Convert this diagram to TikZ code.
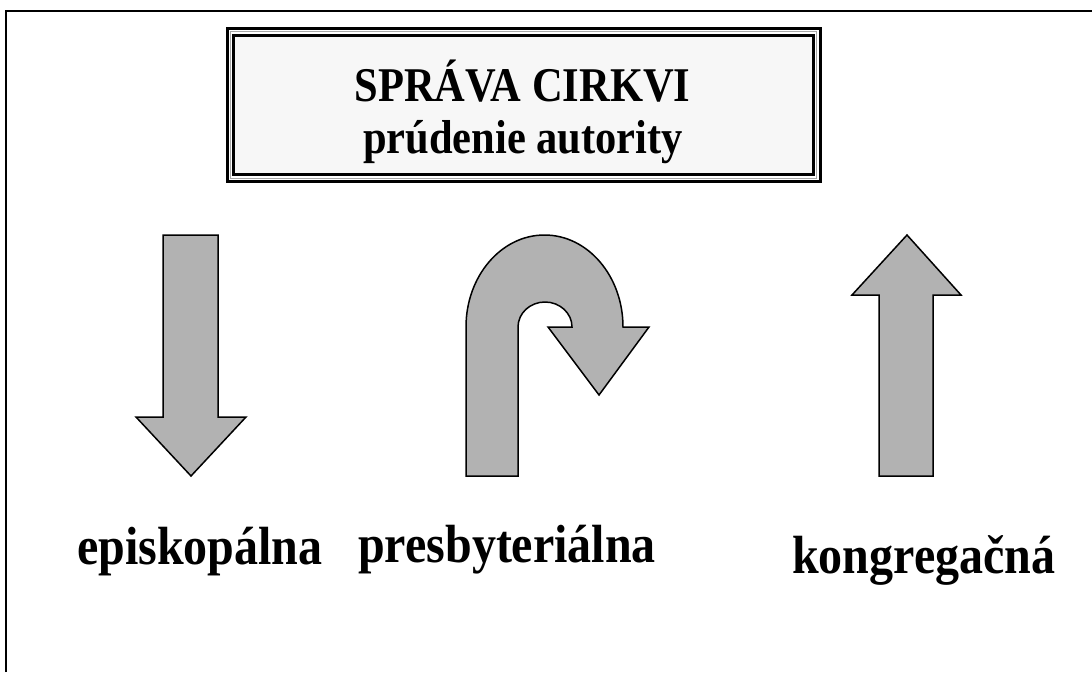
\documentclass[tikz,border=0pt]{standalone}
\usepackage{fontspec}
\setmainfont{Liberation Serif}
\usepackage{graphicx}
\tikzset{
  arrowshape/.style={fill=black!30, draw=black, line width=1.5pt, line join=miter},
  lbl/.style={inner sep=0pt, anchor=base west, font=\fontsize{48}{48}\selectfont\bfseries},
  ttl/.style={inner sep=0pt, anchor=base, font=\fontsize{42.5}{42.5}\selectfont\bfseries}
}
\begin{document}
\begin{tikzpicture}[x=1pt,y=-1pt]
\useasboundingbox (0,0) rectangle (1092,672);
% page frame
\draw[line width=2pt] (6.3,672) -- (6.3,10.5) -- (1092,10.5);
% title box
\fill[black!3] (233.5,35.5) rectangle (813.5,174.5);
\draw[line width=3pt] (227,28.5) rectangle (820,181);
\draw[black!35, line width=0.8pt] (230.3,31.8) rectangle (816.7,177.9);
\draw[line width=3pt] (233.5,35.5) rectangle (813.5,174.5);
\node[ttl] (t1) at (522.5,101) {\scalebox{1}[1.14]{SPRÁVA CIRKVI}};
\node[ttl] (t2) at (523,153) {\scalebox{1}[1.12]{prúdenie autority}};
% down arrow
\draw[arrowshape] (163,235) -- (218,235) -- (218,417) -- (246,417) -- (191,476) -- (136,417) -- (163,417) -- cycle;
% up arrow
\draw[arrowshape] (879,476) -- (879,295) -- (852,295) -- (907,235) -- (961,295) -- (933,295) -- (933,476) -- cycle;
% u-turn arrow
\draw[arrowshape] (466,476) -- (466,327)
  arc[start angle=180, end angle=360, x radius=78.5, y radius=92]
  -- (649,327) -- (599,395) -- (548,327) -- (572,327)
  arc[start angle=0, end angle=-180, x radius=27, y radius=25]
  -- (518,476) -- cycle;
% labels
\node[lbl] (l1) at (77,564) {\scalebox{1}[1.12]{episkopálna}};
\node[lbl] (l2) at (358,562) {\scalebox{1}[1.12]{presbyteriálna}};
\node[lbl] (l3) at (792,573) {\scalebox{1}[1.12]{kongregačná}};
\end{tikzpicture}
\end{document}
